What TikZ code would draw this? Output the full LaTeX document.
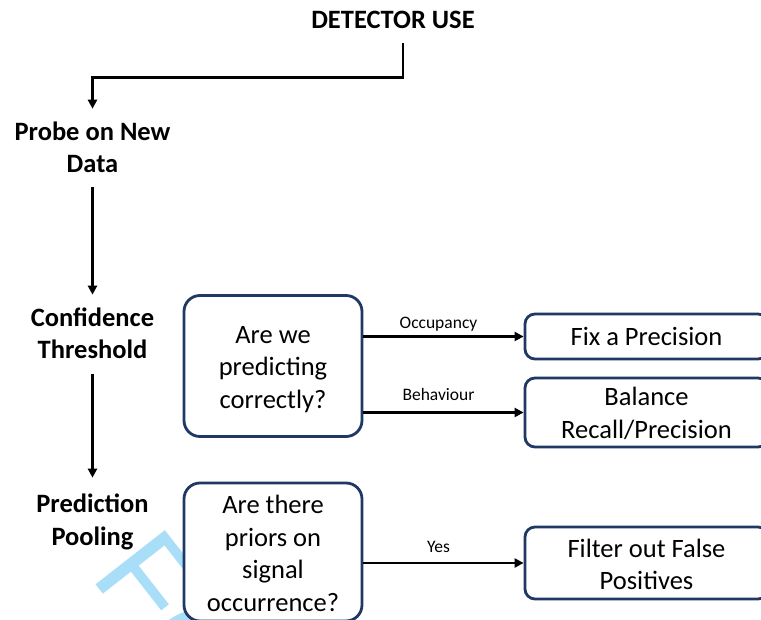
\documentclass[tikz,border=0pt]{standalone}
\usepackage{fontspec}
\setmainfont{Carlito}
\newfontfamily\wmfont{Liberation Sans}
\usetikzlibrary{arrows.meta,calc}
\definecolor{navy}{RGB}{31,56,100}
\definecolor{wmblue}{RGB}{168,222,247}
\begin{document}
\begin{tikzpicture}[x=1pt,y=-1pt,
  lbl/.style={font=\fontsize{26.5}{32.5}\selectfont\bfseries, align=center, inner sep=0pt, anchor=base},
  box/.style={draw=navy, line width=2.8pt, fill=white, align=center, inner sep=0pt,
    font=\fontsize{26.5}{32.5}\selectfont},
  qbox/.style={box, rounded corners=16pt, minimum width=178pt},
  abox/.style={box, rounded corners=10pt, minimum width=243pt},
  arr/.style={line width=2.8pt, -{Triangle[length=9pt,width=9pt]}},
  tag/.style={font=\fontsize{17.5}{20}\selectfont, inner sep=0pt, anchor=base, midway, xshift=-5pt}]
\useasboundingbox (0,0) rectangle (761,620);
\clip (0,0) rectangle (761,620);
\fill[white] (0,0) rectangle (761,620);
% watermark
\node[font=\wmfont\fontsize{128}{128}\selectfont, text=wmblue, rotate=-52, anchor=base west, inner sep=0pt] (wm) at (89.5,576.6) {For Peer Review};
% left column labels (base = baseline of last line)
\node[lbl] (det) at (393,29) {DETECTOR USE};
\node[lbl] (probe) at (92.5,173) {Probe on New\\Data};
\node[lbl] (conf) at (92.5,359) {Confidence\\Threshold};
\node[lbl] (pool) at (92.5,545) {Prediction\\Pooling};
% question boxes
\node[qbox, minimum height=141pt] (q1) at (273,366) {\rule{0pt}{24pt}Are we\\predicting\\correctly?};
\node[qbox, minimum height=138pt] (q2) at (273,552) {\rule{0pt}{21pt}Are there\\priors on\\signal\\occurrence?};
% answer boxes
\node[abox, minimum height=45pt] (fix) at (646.5,336.5) {Fix a Precision};
\node[abox, minimum height=69pt] (bal) at (646.5,412.5) {\rule{0pt}{20pt}Balance\\Recall/Precision};
\node[abox, minimum height=72pt] (filt) at (646.5,563) {\rule{0pt}{21pt}Filter out False\\Positives};
% connectors
\draw[arr] ([xshift=10pt,yshift=-14pt]det.south) -- ++(0,34) -| ([yshift=13pt]probe.north);
\draw[arr] ([yshift=-14pt]probe.south) -- ([yshift=13pt]conf.north);
\draw[arr] ([yshift=-15pt]conf.south) -- ([yshift=16pt]pool.north);
\draw[arr] (q1.east |- fix.west) -- (fix.west) node[tag, yshift=8pt] {Occupancy};
\draw[arr] (q1.east |- bal.west) -- (bal.west) node[tag, yshift=12pt] {Behaviour};
\draw[arr] (q2.east |- filt.west) -- (filt.west) node[tag, yshift=11pt] {Yes};
\end{tikzpicture}
\end{document}
